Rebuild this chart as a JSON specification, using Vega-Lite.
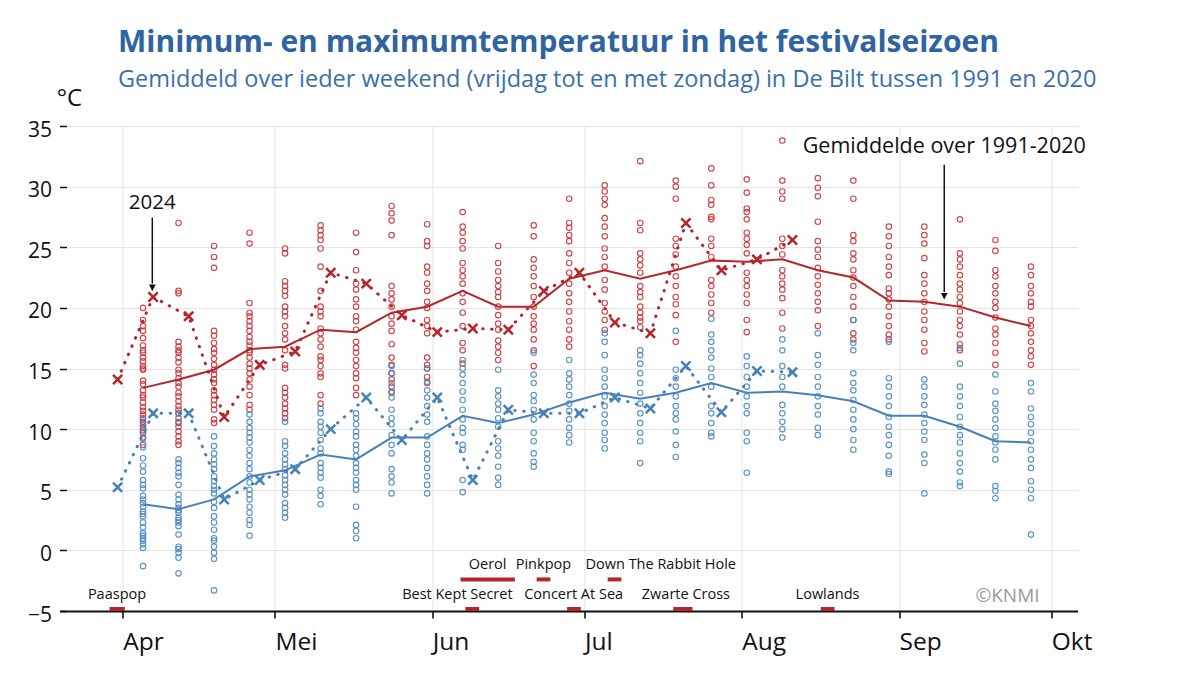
{
  "$schema": "https://vega.github.io/schema/vega-lite/v6.json",
  "width": 1018,
  "height": 485,
  "autosize": {"type": "none"},
  "padding": {"left": 59.5, "top": 126, "right": 122.5, "bottom": 64},
  "background": "white",
  "config": {
    "view": {"stroke": null},
    "font": "Open Sans",
    "axis": {"gridColor": "#e4e4e4", "gridWidth": 1}
  },
  "title": {
    "text": "Minimum- en maximumtemperatuur in het festivalseizoen",
    "subtitle": "Gemiddeld over ieder weekend (vrijdag tot en met zondag) in De Bilt tussen 1991 en 2020",
    "anchor": "start",
    "frame": "group",
    "dx": 58.5,
    "dy": 36,
    "offset": 31,
    "font": "Open Sans",
    "fontSize": 30,
    "fontWeight": "bold",
    "color": "#2f64a0",
    "subtitleFont": "Open Sans",
    "subtitleFontSize": 23.5,
    "subtitleColor": "#3a70a8",
    "subtitlePadding": 10
  },
  "datasets": {
    "obs": [
      {"d": "2024-04-05", "s": "max", "v": [20.0,19.0,18.5,18.1,17.5,16.9,16.5,16.3,15.9,15.6,15.2,15.0,14.9,14.0,13.7,13.2,12.8,12.6,12.2,11.8,11.5,11.2,10.9,10.6,10.4,10.1,9.9,9.7,9.3,8.7]},
      {"d": "2024-04-05", "s": "min", "v": [10.8,10.3,9.7,9.2,8.5,7.6,7.0,6.5,5.8,5.4,5.1,4.5,4.2,3.9,3.6,3.2,3.0,2.8,2.3,1.9,1.4,1.2,1.0,0.8,0.5,0.2,-1.3]},
      {"d": "2024-04-12", "s": "max", "v": [27.0,21.4,21.2,17.2,16.8,16.5,16.3,15.9,15.5,14.9,14.6,14.2,13.8,13.5,13.0,12.7,12.3,11.9,11.6,11.3,10.9,10.5,10.2,9.8,9.4,9.0,8.7]},
      {"d": "2024-04-12", "s": "min", "v": [11.3,10.6,7.5,7.2,6.8,6.4,6.1,5.4,4.6,4.2,3.8,3.5,3.3,3.1,2.7,2.5,2.3,2.0,1.3,0.3,0.1,-0.2,-0.6,-1.9]},
      {"d": "2024-04-19", "s": "max", "v": [25.1,24.2,23.3,18.1,17.7,17.1,16.6,16.3,15.8,15.3,14.9,14.5,14.1,13.8,13.2,12.8,12.4,12.0,11.6,10.8,10.5]},
      {"d": "2024-04-19", "s": "min", "v": [9.4,8.6,8.0,7.5,7.1,6.7,6.1,5.7,5.3,5.0,4.7,4.0,3.5,2.8,2.3,1.7,1.0,0.8,0.3,-0.2,-0.7,-3.3]},
      {"d": "2024-04-26", "s": "max", "v": [26.2,25.3,20.4,19.6,19.3,18.9,18.5,18.1,17.6,17.2,16.9,16.5,16.3,15.9,15.4,15.0,14.6,14.1,13.5,12.8,12.0,11.6]},
      {"d": "2024-04-26", "s": "min", "v": [11.2,10.6,10.1,9.7,9.3,8.9,8.3,7.8,7.2,6.7,6.1,5.6,5.0,4.6,4.2,3.6,3.1,2.5,2.1,1.2]},
      {"d": "2024-05-03", "s": "max", "v": [24.9,24.5,22.2,21.8,21.4,21.0,20.1,19.7,19.3,18.5,17.9,17.4,16.5,15.3,15.0,13.4,13.0,12.6,12.1,11.7,11.3,10.9]},
      {"d": "2024-05-03", "s": "min", "v": [10.6,9.0,8.6,8.0,7.5,7.1,6.7,6.2,5.8,5.4,5.0,4.6,3.9,3.5,3.1,2.7]},
      {"d": "2024-05-10", "s": "max", "v": [26.8,26.4,26.0,25.6,24.9,23.4,21.4,20.1,19.7,19.3,18.3,17.9,17.4,16.8,16.0,15.7,15.2,14.6,14.3,12.8,12.1]},
      {"d": "2024-05-10", "s": "min", "v": [11.7,11.3,10.6,10.2,9.7,9.1,8.4,8.0,7.2,6.8,6.4,6.0,5.0,4.5,3.8]},
      {"d": "2024-05-17", "s": "max", "v": [26.2,24.6,23.1,22.0,21.5,20.7,20.1,19.3,18.9,18.2,17.2,16.7,16.3,15.7,15.2,14.6,14.2,13.4,12.8]},
      {"d": "2024-05-17", "s": "min", "v": [11.3,10.9,10.4,9.8,9.4,8.7,8.3,7.8,7.2,6.8,6.4,5.8,5.4,5.0,3.6,2.1,1.6,1.0]},
      {"d": "2024-05-24", "s": "max", "v": [28.4,27.8,27.2,26.0,21.8,21.2,20.7,20.1,19.3,18.7,18.1,17.0,15.9,15.3,14.6,14.1,13.5,13.0]},
      {"d": "2024-05-24", "s": "min", "v": [15.2,14.6,13.8,13.1,12.6,11.6,10.9,10.4,9.5,8.7,8.0,6.7,6.1,5.6,4.7]},
      {"d": "2024-05-31", "s": "max", "v": [26.9,25.5,25.1,23.4,22.9,22.0,21.4,20.5,20.0,19.0,18.5,17.9,15.9,15.3,15.0,14.3,13.8]},
      {"d": "2024-05-31", "s": "min", "v": [15.0,13.9,13.2,12.6,11.9,11.2,10.6,9.4,8.7,8.0,7.5,6.8,6.1,5.4,4.7]},
      {"d": "2024-06-07", "s": "max", "v": [27.9,26.7,26.2,25.5,24.9,23.7,23.1,22.6,22.0,21.2,20.5,19.6,18.5,17.1,16.5,15.4]},
      {"d": "2024-06-07", "s": "min", "v": [15.7,15.0,14.5,13.8,13.1,12.4,11.6,10.8,10.1,9.7,8.7,8.3,5.8,4.8]},
      {"d": "2024-06-14", "s": "max", "v": [25.1,23.7,23.0,22.3,21.8,21.3,20.9,20.1,19.4,18.7,18.2,17.3,16.8,16.3,15.7]},
      {"d": "2024-06-14", "s": "min", "v": [14.9,13.2,12.7,12.1,11.6,10.9,10.2,9.0,8.4,7.8,6.9,6.0,5.4]},
      {"d": "2024-06-21", "s": "max", "v": [26.8,25.9,24.0,23.3,22.6,21.8,20.9,20.1,19.3,18.7,18.2,17.4,16.5,15.2]},
      {"d": "2024-06-21", "s": "min", "v": [16.3,14.5,13.8,12.8,12.3,11.6,10.8,9.7,9.0,8.0,7.3,6.9]},
      {"d": "2024-06-28", "s": "max", "v": [29.0,27.0,26.6,26.0,25.5,24.5,23.7,22.9,22.0,21.2,20.5,19.7,18.9,18.2,17.4,16.8]},
      {"d": "2024-06-28", "s": "min", "v": [15.7,14.6,14.1,13.5,12.8,12.1,11.5,10.8,10.1,9.5,8.9]},
      {"d": "2024-07-05", "s": "max", "v": [30.1,29.6,29.0,28.5,27.4,26.7,25.9,24.9,24.2,23.4,22.3,21.5,20.4,19.7,19.0,18.2]},
      {"d": "2024-07-05", "s": "min", "v": [17.9,17.2,16.1,14.9,14.2,13.5,12.7,11.9,11.2,10.5,9.7,9.1,8.4]},
      {"d": "2024-07-12", "s": "max", "v": [32.1,27.0,26.4,24.5,24.0,23.5,22.9,21.8,21.3,20.9,20.1,19.6,19.2,18.9,18.4]},
      {"d": "2024-07-12", "s": "min", "v": [16.5,16.1,15.4,14.6,13.8,13.0,12.1,11.3,10.5,9.7,9.0,7.2]},
      {"d": "2024-07-19", "s": "max", "v": [30.5,30.0,29.0,25.7,25.1,24.4,23.4,22.6,21.8,20.9,20.3,19.4,17.2]},
      {"d": "2024-07-19", "s": "min", "v": [18.1,14.9,14.2,13.5,12.7,11.9,11.3,10.8,9.8,8.7,7.7]},
      {"d": "2024-07-26", "s": "max", "v": [31.5,30.1,28.9,28.5,27.5,27.3,25.7,25.1,24.2,22.3,21.8,21.1,20.4,19.6]},
      {"d": "2024-07-26", "s": "min", "v": [19.1,17.8,17.2,16.5,15.9,15.0,14.3,13.5,11.9,11.3,10.5,9.7,9.4]},
      {"d": "2024-08-02", "s": "max", "v": [30.6,29.5,28.2,27.9,27.3,26.2,25.7,25.2,24.5,22.9,22.3,21.8,21.1,20.4,19.0,18.0]},
      {"d": "2024-08-02", "s": "min", "v": [16.0,15.2,14.3,13.5,12.7,11.9,11.3,9.7,9.0,6.4]},
      {"d": "2024-08-09", "s": "max", "v": [33.8,30.5,29.6,29.0,25.7,25.1,24.4,23.1,22.6,22.0,21.5,20.8,19.6,18.3]},
      {"d": "2024-08-09", "s": "min", "v": [17.4,16.5,15.2,14.3,13.5,12.0,11.3,10.6,10.0,9.3]},
      {"d": "2024-08-16", "s": "max", "v": [30.7,29.9,29.2,27.1,25.5,24.8,24.2,23.3,22.6,21.9,21.2,20.5,19.8,18.5]},
      {"d": "2024-08-16", "s": "min", "v": [17.9,16.1,15.3,14.3,13.5,12.7,11.9,11.2,10.1,9.5]},
      {"d": "2024-08-23", "s": "max", "v": [30.5,29.0,26.0,25.5,24.5,24.0,23.1,22.5,21.8,20.9,20.1,19.0,17.9,17.4]},
      {"d": "2024-08-23", "s": "min", "v": [19.0,17.1,16.5,14.6,13.8,13.2,12.4,11.6,10.8,10.0,9.1,8.3]},
      {"d": "2024-08-30", "s": "max", "v": [26.7,25.9,25.1,24.2,23.4,22.7,21.6,21.2,20.7,20.1,19.3,18.5,17.8,17.4]},
      {"d": "2024-08-30", "s": "min", "v": [17.2,14.2,13.5,12.7,11.9,11.0,10.2,9.5,8.7,7.8,6.5,6.3]},
      {"d": "2024-09-06", "s": "max", "v": [26.7,26.0,25.3,24.1,22.7,22.0,21.2,20.5,19.7,19.0,18.2,17.1,16.4]},
      {"d": "2024-09-06", "s": "min", "v": [14.1,13.5,12.7,12.0,11.2,10.5,9.8,9.1,7.9,7.2,4.7]},
      {"d": "2024-09-13", "s": "max", "v": [27.3,24.5,24.0,23.4,22.7,22.0,21.5,20.9,20.4,19.7,19.0,18.5,17.8,17.0,16.5]},
      {"d": "2024-09-13", "s": "min", "v": [16.7,15.4,13.5,12.7,11.9,11.0,10.2,9.5,8.9,8.0,7.2,6.5,5.6,5.3]},
      {"d": "2024-09-20", "s": "max", "v": [25.6,24.7,23.1,22.6,21.8,21.2,20.5,20.0,19.2,18.3,17.8,17.1,16.3,15.3]},
      {"d": "2024-09-20", "s": "min", "v": [14.5,13.1,12.1,11.5,10.8,10.1,9.4,8.9,8.3,7.5,5.3,4.9,4.3]},
      {"d": "2024-09-27", "s": "max", "v": [23.4,22.7,21.8,21.2,20.5,20.1,19.0,18.5,17.9,17.2,16.5,16.0,15.3]},
      {"d": "2024-09-27", "s": "min", "v": [13.8,13.1,11.7,11.0,10.4,9.7,9.0,8.3,7.5,6.8,5.7,5.0,4.3,1.3]}
    ],
    "gem": [
      {"d": "2024-04-05", "tmax": 13.4, "tmin": 3.8},
      {"d": "2024-04-12", "tmax": 14.1, "tmin": 3.4},
      {"d": "2024-04-19", "tmax": 14.9, "tmin": 4.2},
      {"d": "2024-04-26", "tmax": 16.6, "tmin": 6.1},
      {"d": "2024-05-03", "tmax": 16.8, "tmin": 6.6},
      {"d": "2024-05-10", "tmax": 18.2, "tmin": 7.9},
      {"d": "2024-05-17", "tmax": 18.0, "tmin": 7.5},
      {"d": "2024-05-24", "tmax": 19.6, "tmin": 9.3},
      {"d": "2024-05-31", "tmax": 20.1, "tmin": 9.3},
      {"d": "2024-06-07", "tmax": 21.4, "tmin": 11.1},
      {"d": "2024-06-14", "tmax": 20.1, "tmin": 10.5},
      {"d": "2024-06-21", "tmax": 20.1, "tmin": 11.2},
      {"d": "2024-06-28", "tmax": 22.4, "tmin": 12.2},
      {"d": "2024-07-05", "tmax": 23.1, "tmin": 13.0},
      {"d": "2024-07-12", "tmax": 22.4, "tmin": 12.5},
      {"d": "2024-07-19", "tmax": 23.1, "tmin": 13.0},
      {"d": "2024-07-26", "tmax": 23.9, "tmin": 13.8},
      {"d": "2024-08-02", "tmax": 23.8, "tmin": 13.0},
      {"d": "2024-08-09", "tmax": 24.0, "tmin": 13.1},
      {"d": "2024-08-16", "tmax": 23.1, "tmin": 12.8},
      {"d": "2024-08-23", "tmax": 22.5, "tmin": 12.3},
      {"d": "2024-08-30", "tmax": 20.6, "tmin": 11.1},
      {"d": "2024-09-06", "tmax": 20.5, "tmin": 11.1},
      {"d": "2024-09-13", "tmax": 20.1, "tmin": 10.2},
      {"d": "2024-09-20", "tmax": 19.2, "tmin": 9.0},
      {"d": "2024-09-27", "tmax": 18.5, "tmin": 8.9}
    ],
    "j2024": [
      {"d": "2024-03-31", "tmax": 14.1, "tmin": 5.2},
      {"d": "2024-04-07", "tmax": 20.9, "tmin": 11.3},
      {"d": "2024-04-14", "tmax": 19.3, "tmin": 11.3},
      {"d": "2024-04-21", "tmax": 11.0, "tmin": 4.2},
      {"d": "2024-04-28", "tmax": 15.3, "tmin": 5.8},
      {"d": "2024-05-05", "tmax": 16.4, "tmin": 6.7},
      {"d": "2024-05-12", "tmax": 22.9, "tmin": 10.0},
      {"d": "2024-05-19", "tmax": 22.0, "tmin": 12.6},
      {"d": "2024-05-26", "tmax": 19.4, "tmin": 9.1},
      {"d": "2024-06-02", "tmax": 18.0, "tmin": 12.6},
      {"d": "2024-06-09", "tmax": 18.3, "tmin": 5.8},
      {"d": "2024-06-16", "tmax": 18.2, "tmin": 11.6},
      {"d": "2024-06-23", "tmax": 21.4, "tmin": 11.3},
      {"d": "2024-06-30", "tmax": 22.9, "tmin": 11.3},
      {"d": "2024-07-07", "tmax": 18.8, "tmin": 12.6},
      {"d": "2024-07-14", "tmax": 17.9, "tmin": 11.7},
      {"d": "2024-07-21", "tmax": 27.0, "tmin": 15.2},
      {"d": "2024-07-28", "tmax": 23.1, "tmin": 11.4},
      {"d": "2024-08-04", "tmax": 24.0, "tmin": 14.8},
      {"d": "2024-08-11", "tmax": 25.6, "tmin": 14.7}
    ],
    "fest": [
      {"naam": "Paaspop", "rij": 1, "van": "2024-03-29T10:00Z", "tot": "2024-04-01T10:00Z", "lab": "2024-03-30T21:00Z"},
      {"naam": "Best Kept Secret", "rij": 1, "van": "2024-06-07T13:00Z", "tot": "2024-06-10T06:00Z", "lab": "2024-06-05T23:00Z"},
      {"naam": "Oerol", "rij": 2, "van": "2024-06-06T14:00Z", "tot": "2024-06-17T07:00Z", "lab": "2024-06-11T22:00Z"},
      {"naam": "Pinkpop", "rij": 2, "van": "2024-06-21T14:00Z", "tot": "2024-06-24T07:00Z", "lab": "2024-06-22T22:00Z"},
      {"naam": "Concert At Sea", "rij": 1, "van": "2024-06-27T14:00Z", "tot": "2024-06-30T07:00Z", "lab": "2024-06-28T21:00Z"},
      {"naam": "Down The Rabbit Hole", "rij": 2, "van": "2024-07-05T14:00Z", "tot": "2024-07-08T07:00Z", "lab": "2024-07-16T01:00Z"},
      {"naam": "Zwarte Cross", "rij": 1, "van": "2024-07-18T12:00Z", "tot": "2024-07-22T07:00Z", "lab": "2024-07-21T00:00Z"},
      {"naam": "Lowlands", "rij": 1, "van": "2024-08-16T14:00Z", "tot": "2024-08-19T07:00Z", "lab": "2024-08-17T22:00Z"}
    ]
  },
  "layer": [
    {
      "data": {"name": "obs"},
      "transform": [{"flatten": ["v"]}],
      "mark": {"type": "point", "shape": "circle", "filled": false, "size": 30, "strokeWidth": 1.15, "opacity": 0.9},
      "encoding": {
        "x": {
          "field": "d", "type": "temporal",
          "scale": {"type": "utc", "domain": [{"year": 2024, "month": 3, "date": 19, "hours": 13, "utc": true}, {"year": 2024, "month": 10, "date": 6, "hours": 4, "minutes": 20, "utc": true}]},
          "axis": {
            "title": null,
            "values": [
              {"year": 2024, "month": 4, "date": 1, "utc": true},
              {"year": 2024, "month": 5, "date": 1, "utc": true},
              {"year": 2024, "month": 6, "date": 1, "utc": true},
              {"year": 2024, "month": 7, "date": 1, "utc": true},
              {"year": 2024, "month": 8, "date": 1, "utc": true},
              {"year": 2024, "month": 9, "date": 1, "utc": true},
              {"year": 2024, "month": 10, "date": 1, "utc": true}
            ],
            "labelExpr": "['Jan','Feb','Mrt','Apr','Mei','Jun','Jul','Aug','Sep','Okt','Nov','Dec'][utcmonth(datum.value)]",
            "labelAlign": "left",
            "labelBaseline": "top",
            "labelFontSize": 24.5,
            "labelColor": "#111111",
            "labelPadding": 12,
            "labelFlush": false,
            "labelOverlap": false,
            "tickSize": 7,
            "tickWidth": 1.6,
            "tickColor": "#111111",
            "domainColor": "#111111",
            "domainWidth": 2,
            "grid": true
          }
        },
        "y": {
          "field": "v", "type": "quantitative",
          "scale": {"domain": [-5, 35], "nice": false, "zero": false},
          "axis": {
            "values": [-5, 0, 5, 10, 15, 20, 25, 30, 35],
            "title": "°C",
            "titleAngle": 0,
            "titleAlign": "center",
            "titleBaseline": "middle",
            "titleX": 2.5,
            "titleY": -28,
            "titleFontSize": 24,
            "titleFontWeight": "normal",
            "titleColor": "#111111",
            "offset": -7,
            "domain": false,
            "tickSize": 7,
            "tickWidth": 1.5,
            "tickColor": "#111111",
            "labelFontSize": 21,
            "labelColor": "#111111",
            "labelPadding": 8,
            "labelOffset": 4,
            "grid": true
          }
        },
        "color": {"field": "s", "type": "nominal", "scale": {"domain": ["max", "min"], "range": ["#c9373b", "#4c8ac3"]}, "legend": null}
      }
    },
    {
      "data": {"name": "gem"},
      "mark": {"type": "line", "color": "#b5262b", "strokeWidth": 2},
      "encoding": {"x": {"field": "d", "type": "temporal"}, "y": {"field": "tmax", "type": "quantitative"}}
    },
    {
      "data": {"name": "gem"},
      "mark": {"type": "line", "color": "#4682b8", "strokeWidth": 2},
      "encoding": {"x": {"field": "d", "type": "temporal"}, "y": {"field": "tmin", "type": "quantitative"}}
    },
    {
      "data": {"name": "j2024"},
      "mark": {"type": "line", "color": "#b5262b", "strokeWidth": 3, "strokeDash": [0.5, 8.5], "strokeCap": "round"},
      "encoding": {"x": {"field": "d", "type": "temporal"}, "y": {"field": "tmax", "type": "quantitative"}}
    },
    {
      "data": {"name": "j2024"},
      "mark": {"type": "line", "color": "#4682b8", "strokeWidth": 3, "strokeDash": [0.5, 8.5], "strokeCap": "round"},
      "encoding": {"x": {"field": "d", "type": "temporal"}, "y": {"field": "tmin", "type": "quantitative"}}
    },
    {
      "data": {"name": "j2024"},
      "mark": {"type": "point", "shape": "M-1,-1L1,1M1,-1L-1,1", "filled": false, "size": 85, "strokeWidth": 2.5, "color": "#b5262b", "opacity": 1},
      "encoding": {"x": {"field": "d", "type": "temporal"}, "y": {"field": "tmax", "type": "quantitative"}}
    },
    {
      "data": {"name": "j2024"},
      "mark": {"type": "point", "shape": "M-1,-1L1,1M1,-1L-1,1", "filled": false, "size": 85, "strokeWidth": 2.5, "color": "#4682b8", "opacity": 1},
      "encoding": {"x": {"field": "d", "type": "temporal"}, "y": {"field": "tmin", "type": "quantitative"}}
    },
    {
      "data": {"name": "fest"},
      "transform": [{"filter": "datum.rij == 1"}],
      "mark": {"type": "rect", "color": "#b5262b"},
      "encoding": {"x": {"field": "van", "type": "temporal"}, "x2": {"field": "tot"}, "y": {"datum": -4.67}, "y2": {"datum": -5.0}}
    },
    {
      "data": {"name": "fest"},
      "transform": [{"filter": "datum.rij == 2"}],
      "mark": {"type": "rect", "color": "#b5262b"},
      "encoding": {"x": {"field": "van", "type": "temporal"}, "x2": {"field": "tot"}, "y": {"datum": -2.23}, "y2": {"datum": -2.56}}
    },
    {
      "data": {"name": "fest"},
      "transform": [{"filter": "datum.rij == 1"}],
      "mark": {"type": "text", "fontSize": 14.5, "color": "#111111", "align": "center", "baseline": "middle"},
      "encoding": {"x": {"field": "lab", "type": "temporal"}, "y": {"datum": -3.68}, "text": {"field": "naam"}}
    },
    {
      "data": {"name": "fest"},
      "transform": [{"filter": "datum.rij == 2"}],
      "mark": {"type": "text", "fontSize": 14.5, "color": "#111111", "align": "center", "baseline": "middle"},
      "encoding": {"x": {"field": "lab", "type": "temporal"}, "y": {"datum": -1.22}, "text": {"field": "naam"}}
    },
    {
      "data": {"values": [{}]},
      "mark": {"type": "rule", "color": "#111111", "strokeWidth": 1.5},
      "encoding": {"x": {"datum": {"year": 2024, "month": 4, "date": 6, "hours": 20, "utc": true}, "type": "temporal"}, "y": {"datum": 27.45}, "y2": {"datum": 22.0}}
    },
    {
      "data": {"values": [{}]},
      "mark": {"type": "point", "shape": "M-1,-1L1,-1L0,1Z", "filled": true, "size": 45, "color": "#111111", "opacity": 1},
      "encoding": {"x": {"datum": {"year": 2024, "month": 4, "date": 6, "hours": 20, "utc": true}, "type": "temporal"}, "y": {"datum": 21.65}}
    },
    {
      "data": {"values": [{}]},
      "mark": {"type": "text", "text": "2024", "fontSize": 20.5, "color": "#111111", "align": "center", "baseline": "middle"},
      "encoding": {"x": {"datum": {"year": 2024, "month": 4, "date": 6, "hours": 20, "utc": true}, "type": "temporal"}, "y": {"datum": 28.66}}
    },
    {
      "data": {"values": [{}]},
      "mark": {"type": "rule", "color": "#111111", "strokeWidth": 1.5},
      "encoding": {"x": {"datum": {"year": 2024, "month": 9, "date": 9, "hours": 22, "utc": true}, "type": "temporal"}, "y": {"datum": 31.8}, "y2": {"datum": 21.3}}
    },
    {
      "data": {"values": [{}]},
      "mark": {"type": "point", "shape": "M-1,-1L1,-1L0,1Z", "filled": true, "size": 45, "color": "#111111", "opacity": 1},
      "encoding": {"x": {"datum": {"year": 2024, "month": 9, "date": 9, "hours": 22, "utc": true}, "type": "temporal"}, "y": {"datum": 20.96}}
    },
    {
      "data": {"values": [{}]},
      "mark": {"type": "text", "text": "Gemiddelde over 1991-2020", "fontSize": 21.5, "color": "#111111", "align": "center", "baseline": "middle"},
      "encoding": {"x": {"datum": {"year": 2024, "month": 9, "date": 9, "hours": 22, "utc": true}, "type": "temporal"}, "y": {"datum": 33.25}}
    },
    {
      "data": {"values": [{}]},
      "mark": {"type": "text", "text": "©KNMI", "fontSize": 19, "color": "#9a9a9a", "align": "right", "baseline": "middle"},
      "encoding": {"x": {"datum": {"year": 2024, "month": 9, "date": 28, "hours": 17, "utc": true}, "type": "temporal"}, "y": {"datum": -3.79}}
    }
  ]
}
